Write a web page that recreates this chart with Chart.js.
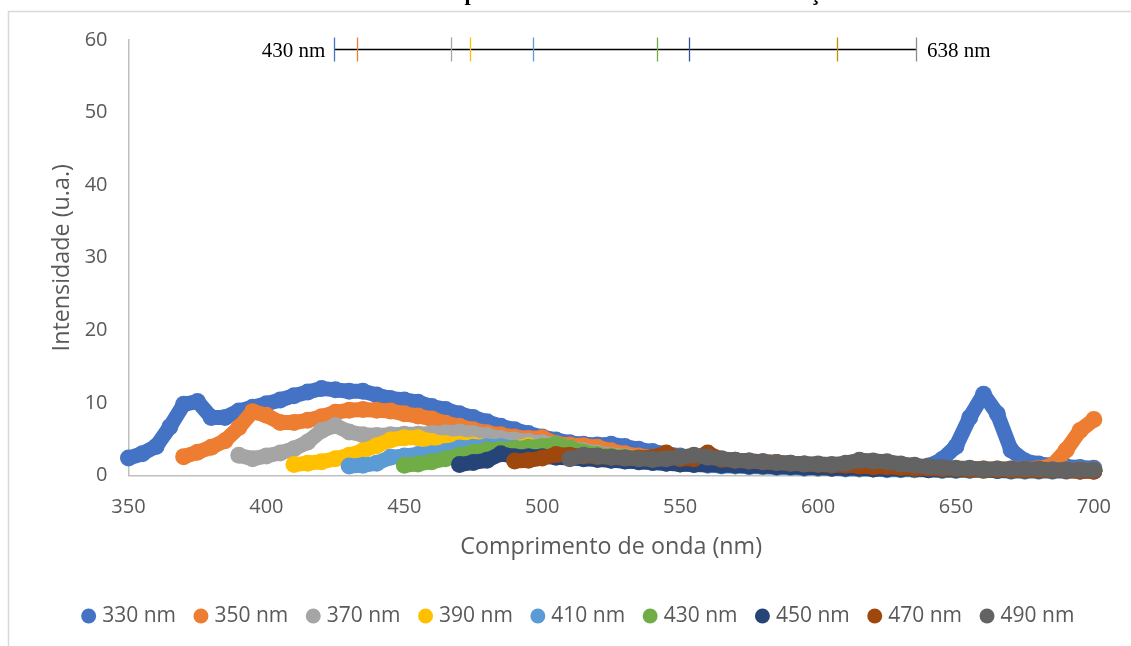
<!DOCTYPE html>
<html lang="pt">
<head>
<meta charset="utf-8">
<title>Espectros de emissão</title>
<script src="https://cdn.jsdelivr.net/npm/chart.js@4.4.1/dist/chart.umd.min.js"></script>
<style>
  html, body { margin: 0; padding: 0; background: #fff; }
  #wrap { position: relative; width: 1131px; height: 646px; }
</style>
</head>
<body>
<div id="wrap"><canvas id="spectra" width="1131" height="646"></canvas></div>
<script>
// Emission wavelength grid (nm)
const wavelengths = [
  350, 355, 360, 365, 370, 375, 380, 385, 390, 395,
  400, 405, 410, 415, 420, 425, 430, 435, 440, 445,
  450, 455, 460, 465, 470, 475, 480, 485, 490, 495,
  500, 505, 510, 515, 520, 525, 530, 535, 540, 545,
  550, 555, 560, 565, 570, 575, 580, 585, 590, 595,
  600, 605, 610, 615, 620, 625, 630, 635, 640, 645,
  650, 655, 660, 665, 670, 675, 680, 685, 690, 695,
  700
];

// Excitation wavelengths (legend) and where each scan starts
const excitation = ['330 nm', '350 nm', '370 nm', '390 nm', '410 nm', '430 nm', '450 nm', '470 nm', '490 nm'];
const scanStart = [350, 370, 390, 410, 430, 450, 470, 490, 510];
const colors = ['#4472C4', '#ED7D31', '#A5A5A5', '#FFC000', '#5B9BD5', '#70AD47', '#264478', '#9E480E', '#636363'];

// Intensities (u.a.), one value per 5 nm from scanStart to 700 nm
const exc330 = [
  2.4, 3.0, 4.0, 6.7, 9.8, 10.2, 8.0, 8.0, 8.9, 9.4,
  9.9, 10.4, 11.0, 11.5, 12.0, 11.8, 11.6, 11.6, 11.1, 10.6,
  10.4, 10.1, 9.5, 9.1, 8.5, 8.0, 7.4, 6.8, 6.3, 5.8,
  5.3, 4.9, 4.5, 4.3, 4.2, 4.3, 4.0, 3.6, 3.3, 3.0,
  2.7, 2.5, 2.3, 2.1, 2.0, 1.8, 1.7, 1.6, 1.5, 1.4,
  1.3, 1.3, 1.2, 1.2, 1.1, 1.1, 1.1, 1.1, 1.3, 2.2,
  4.0, 8.0, 11.2, 8.5, 3.5, 2.0, 1.6, 1.4, 1.2, 1.1,
  1.0
];
const exc350 = [
  2.6, 3.2, 3.9, 4.8, 6.6, 8.8, 8.3, 7.3, 7.3, 7.6,
  8.1, 8.7, 9.0, 9.1, 9.0, 8.9, 8.5, 8.2, 7.8, 7.2,
  6.8, 6.3, 5.9, 5.6, 5.3, 5.1, 5.2, 4.4, 4.2, 4.1,
  3.9, 3.4, 3.0, 2.7, 2.5, 2.3, 2.1, 2.0, 1.9, 1.8,
  1.7, 1.6, 1.5, 1.4, 1.3, 1.3, 1.2, 1.2, 1.1, 1.1,
  1.0, 1.0, 1.0, 0.9, 0.9, 0.9, 0.9, 0.9, 0.9, 0.9,
  0.9, 0.9, 1.0, 1.4, 3.5, 6.2, 7.7
];
const exc370 = [
  2.8, 2.3, 2.7, 3.1, 3.7, 4.6, 6.2, 6.9, 6.0, 5.6,
  5.5, 5.6, 5.7, 5.7, 5.8, 5.9, 6.0, 5.8, 5.5, 5.1,
  4.9, 4.7, 4.5, 4.2, 3.8, 3.4, 3.1, 2.8, 2.6, 2.4,
  2.2, 2.0, 1.9, 1.8, 1.7, 1.6, 1.5, 1.4, 1.3, 1.3,
  1.2, 1.2, 1.1, 1.1, 1.0, 1.0, 1.0, 0.9, 0.9, 0.9,
  0.9, 0.8, 0.8, 0.8, 0.8, 0.8, 0.8, 0.8, 0.8, 0.8,
  0.8, 0.8, 0.8
];
const exc390 = [
  1.5, 1.7, 1.9, 2.3, 2.8, 3.4, 4.1, 4.9, 5.2, 5.2,
  4.7, 4.4, 4.3, 4.2, 4.0, 3.9, 3.8, 4.1, 3.4, 3.1,
  2.8, 2.6, 2.4, 2.2, 2.1, 2.0, 1.9, 1.8, 1.7, 1.6,
  1.5, 1.4, 1.3, 1.3, 1.2, 1.2, 1.1, 1.1, 1.0, 1.0,
  1.0, 0.9, 0.9, 0.9, 0.9, 0.8, 0.8, 0.8, 0.8, 0.8,
  0.7, 0.7, 0.7, 0.7, 0.7, 0.7, 0.7, 0.7, 0.7
];
const exc410 = [
  1.3, 1.4, 1.7, 2.5, 2.7, 2.9, 3.0, 3.3, 3.8, 3.9,
  4.0, 4.0, 3.8, 3.5, 3.2, 2.9, 2.7, 2.5, 2.3, 2.1,
  2.0, 1.9, 1.8, 1.7, 1.6, 1.5, 1.4, 1.3, 1.3, 1.2,
  1.2, 1.1, 1.1, 1.0, 1.0, 1.0, 0.9, 0.9, 0.9, 0.8,
  0.8, 0.8, 0.8, 0.7, 0.7, 0.7, 0.7, 0.7, 0.6, 0.6,
  0.6, 0.6, 0.6, 0.6, 0.6
];
const exc430 = [
  1.4, 1.6, 1.9, 2.3, 2.8, 3.2, 3.5, 3.6, 3.7, 3.9,
  4.0, 4.3, 3.8, 3.2, 2.9, 2.7, 2.5, 2.3, 2.2, 2.0,
  1.9, 1.8, 1.7, 1.6, 1.5, 1.4, 1.4, 1.3, 1.3, 1.2,
  1.2, 1.1, 1.1, 1.0, 1.0, 1.0, 0.9, 0.9, 0.9, 0.8,
  0.8, 0.8, 0.8, 0.8, 0.7, 0.7, 0.7, 0.7, 0.7, 0.7,
  0.7
];
const exc450 = [
  1.5, 1.8, 2.1, 3.0, 2.6, 2.6, 2.6, 2.5, 2.4, 2.3,
  2.2, 2.1, 2.0, 1.9, 1.8, 1.7, 1.6, 1.5, 1.5, 1.4,
  1.4, 1.3, 1.3, 1.2, 1.2, 1.1, 1.1, 1.0, 1.0, 1.0,
  0.9, 0.9, 0.9, 0.9, 0.8, 0.8, 0.8, 0.8, 0.8, 0.7,
  0.7, 0.7, 0.7, 0.7, 0.7, 0.7, 0.7
];
const exc470 = [
  2.0, 2.1, 2.4, 2.9, 2.8, 2.7, 2.6, 2.5, 2.4, 2.4,
  2.5, 3.1, 2.3, 2.3, 3.1, 2.2, 2.1, 2.0, 1.9, 1.8,
  1.7, 1.6, 1.5, 1.4, 1.4, 1.3, 1.2, 1.2, 1.1, 1.0,
  1.0, 0.9, 0.9, 0.8, 0.8, 0.8, 0.7, 0.7, 0.7, 0.7,
  0.7, 0.6, 0.6
];
const exc490 = [
  2.3, 2.8, 2.7, 2.5, 2.4, 2.3, 2.2, 2.3, 2.5, 2.8,
  2.5, 2.3, 2.1, 2.0, 1.9, 1.8, 1.7, 1.6, 1.6, 1.5,
  1.7, 2.1, 2.0, 1.9, 1.6, 1.4, 1.2, 1.1, 1.0, 1.0,
  0.9, 0.9, 0.9, 0.9, 0.9, 0.8, 0.8, 0.8, 0.8
];
const intensities = [exc330, exc350, exc370, exc390, exc410, exc430, exc450, exc470, exc490];

// Emission range bar across the top of the plot
const rangeEndsNm = [424.6, 635.5];
const rangeLabels = ['430 nm', '638 nm'];
const rangeMarksNm = [424.6, 432.7, 466.8, 473.9, 496.8, 541.5, 553.2, 606.7, 635.5];
const rangeMarkColors = ['#4472C4', '#ED7D31', '#A5A5A5', '#FFC000', '#5B9BD5', '#70AD47', '#2F5597', '#BF9000', '#8C8C8C'];
const rangeLevel = 58.75;

const titleText = 'Espectros de emissão variando a excitação';

const textGrey = '#595959';
const sans = '"Open Sans", "Noto Sans", sans-serif';

const datasets = excitation.map((name, i) => {
  const offset = wavelengths.indexOf(scanStart[i]);
  return {
    label: name,
    data: intensities[i].map((v, k) => ({ x: wavelengths[offset + k], y: v })),
    backgroundColor: colors[i],
    borderColor: colors[i],
    showLine: true,
    borderWidth: 15,
    borderCapStyle: 'round',
    borderJoinStyle: 'round',
    pointRadius: 8.5,
    pointHoverRadius: 8.5,
    pointBorderWidth: 0,
    order: excitation.length - i,   // later scans drawn on top
    clip: false
  };
});

// Outer frame plus the clipped heading above it
const framePlugin = {
  id: 'frame',
  afterLayout(chart) {
    // legend row sits a little right of the canvas centre
    chart.legend.left += 29;
    chart.legend.right += 29;
  },
  beforeDraw(chart) {
    const c = chart.ctx;
    c.save();
    c.fillStyle = '#fff';
    c.fillRect(0, 0, chart.width, chart.height);
    c.strokeStyle = '#D9D9D9';
    c.lineWidth = 1.5;
    c.beginPath();
    c.moveTo(8.5, chart.height);
    c.lineTo(8.5, 11.5);
    c.lineTo(chart.width, 11.5);
    c.stroke();
    c.font = 'bold 22.3px "Liberation Serif", "Times New Roman", serif';
    c.fillStyle = '#000';
    c.textBaseline = 'alphabetic';
    c.fillText(titleText, 441, 0);
    c.restore();
  }
};

// Horizontal bar with one coloured tick per excitation
const rangeBarPlugin = {
  id: 'rangeBar',
  afterDatasetsDraw(chart) {
    const { ctx: c, scales: { x, y } } = chart;
    const yy = Math.round(y.getPixelForValue(rangeLevel)) + 0.5;
    const x0 = x.getPixelForValue(rangeEndsNm[0]);
    const x1 = x.getPixelForValue(rangeEndsNm[1]);
    c.save();
    c.strokeStyle = '#000';
    c.lineWidth = 1.5;
    c.beginPath();
    c.moveTo(x0, yy);
    c.lineTo(x1, yy);
    c.stroke();
    c.lineWidth = 1.3;
    rangeMarksNm.forEach((nm, i) => {
      const px = Math.round(x.getPixelForValue(nm)) + 0.5;
      c.strokeStyle = rangeMarkColors[i];
      c.beginPath();
      c.moveTo(px, yy - 12);
      c.lineTo(px, yy + 12);
      c.stroke();
    });
    c.font = '21px "Liberation Serif", "Times New Roman", serif';
    c.fillStyle = '#000';
    c.textBaseline = 'alphabetic';
    c.textAlign = 'right';
    c.fillText(rangeLabels[0], x0 - 9, yy + 7.5);
    c.textAlign = 'left';
    c.fillText(rangeLabels[1], x1 + 11, yy + 7.5);
    c.restore();
  }
};

const chart = new Chart(document.getElementById('spectra'), {
  type: 'scatter',
  data: { datasets },
  options: {
    responsive: false,
    animation: false,
    events: [],
    layout: { padding: { left: 8, right: 37, top: 40, bottom: 9.5 } },
    scales: {
      x: {
        type: 'linear',
        min: 350,
        max: 700,
        grid: { display: false, drawTicks: false },
        border: { display: true, color: '#BFBFBF', width: 1.5 },
        ticks: { stepSize: 50, color: textGrey, font: { family: sans, size: 20 }, padding: 20 },
        title: {
          display: true,
          text: 'Comprimento de onda (nm)',
          color: textGrey,
          font: { family: sans, size: 23.3 },
          padding: { top: 0, bottom: 22 }
        },
        afterFit(scale) { scale.height = 108; }
      },
      y: {
        min: 0,
        max: 60,
        grid: { display: false, drawTicks: false },
        border: { display: true, color: '#BFBFBF', width: 1.5 },
        ticks: { stepSize: 10, color: textGrey, font: { family: sans, size: 20 }, padding: 21 },
        title: {
          display: true,
          text: 'Intensidade (u.a.)',
          color: textGrey,
          font: { family: sans, size: 23.3 },
          padding: { top: 40, bottom: 0 }
        },
        afterFit(scale) { scale.width = 120.5; }
      }
    },
    plugins: {
      legend: {
        position: 'bottom',
        labels: {
          usePointStyle: true,
          pointStyle: 'circle',
          boxWidth: 6,
          boxHeight: 10.6,
          padding: 22,
          color: textGrey,
          font: { family: sans, size: 21 },
          generateLabels(chart) {
            const items = Chart.defaults.plugins.legend.labels.generateLabels(chart);
            items.forEach(it => { it.lineWidth = 0; it.strokeStyle = it.fillStyle; });
            return items.sort((a, b) => a.datasetIndex - b.datasetIndex);
          }
        }
      },
      tooltip: { enabled: false }
    }
  },
  plugins: [framePlugin, rangeBarPlugin]
});
</script>
</body>
</html>
